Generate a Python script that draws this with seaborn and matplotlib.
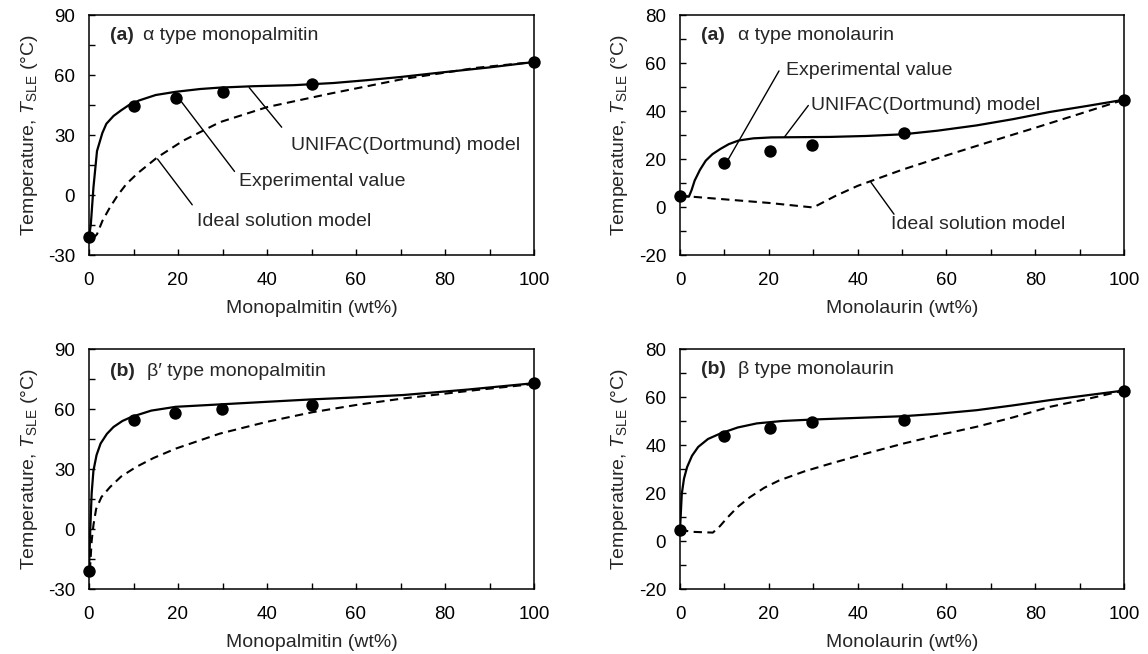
import numpy as np
import pandas as pd
import matplotlib
matplotlib.use("Agg")
import matplotlib.pyplot as plt
import seaborn as sns
from matplotlib.ticker import MultipleLocator

sns.set_style("ticks")
plt.rcParams['font.family'] = ['Liberation Sans', 'DejaVu Sans']
plt.rcParams['mathtext.fontset'] = 'custom'
plt.rcParams['mathtext.rm'] = 'Liberation Sans'
plt.rcParams['mathtext.it'] = 'Liberation Sans:italic'
plt.rcParams['mathtext.bf'] = 'Liberation Sans:bold'
plt.rcParams['axes.unicode_minus'] = False

# ---------------- data ----------------
# (a) alpha monopalmitin
a_pal_exp_x = [0, 10, 19.5, 30, 50, 100]
a_pal_exp_y = [-21, 44.5, 48.5, 51.5, 55.5, 66.5]
a_pal_uni_x = [0, 0.4, 1, 1.8, 3, 3.9, 5.5, 7.2, 9, 11.3, 15, 19.5, 25, 29.4, 37, 45.9, 55, 62.4, 70, 78.9, 90, 100]
a_pal_uni_y = [-21, -15, 3.8, 22, 31, 35.6, 39.5, 42.3, 45, 47.3, 50, 51.6, 53, 53.7, 54.4, 54.9, 56, 57.4, 59, 61.2, 63.8, 66.5]
a_pal_ide_x = [0.8, 1.8, 3, 4.7, 6.5, 8.4, 11, 15.4, 21.2, 29.4, 40.1, 54.2, 70.6, 87.1, 100]
a_pal_ide_y = [-22, -19.6, -13, -6.2, 0, 5.5, 11, 18.9, 27.2, 36.4, 44, 50.7, 58, 63.6, 66.5]

# (a) alpha monolaurin
a_lau_exp_x = [0, 10, 20.2, 29.8, 50.5, 100]
a_lau_exp_y = [4.7, 18.4, 23.2, 26, 30.8, 44.7]
a_lau_uni_x = [0, 2, 2.6, 3.3, 4.5, 5.8, 7.3, 9.1, 11, 13.2, 16.5, 20.6, 27, 33.8, 42, 50.3, 58, 66.8, 75, 83.3, 92, 100]
a_lau_uni_y = [4.7, 4.3, 7, 11, 15.5, 19.3, 22, 24.2, 26.2, 27.7, 28.6, 29.0, 29.1, 29.2, 29.6, 30.3, 31.8, 34, 36.6, 39.6, 42.2, 44.7]
a_lau_ide_x = [0, 10, 20, 30, 35, 40, 50, 60, 70, 80, 90, 100]
a_lau_ide_y = [4.7, 3.2, 1.7, -0.2, 4.6, 8.8, 15.5, 21.5, 27.3, 33, 38.8, 44.7]

# (b) beta' monopalmitin
b_pal_exp_x = [0, 10.1, 19.4, 29.8, 50, 100]
b_pal_exp_y = [-20.8, 54.4, 58.1, 59.8, 62, 72.9]
b_pal_uni_x = [0, 0.3, 0.6, 1, 1.7, 2.6, 4, 5.5, 7.5, 9.6, 14, 19.5, 29.4, 40, 50, 60, 70.7, 85, 100]
b_pal_uni_y = [-20.8, 0.7, 18, 29.2, 37, 42.7, 47.5, 51, 54, 56.1, 59.2, 61.1, 62.3, 63.6, 64.8, 65.8, 67, 69.7, 72.9]
b_pal_ide_x = [0.2, 0.6, 1, 1.6, 2.8, 4.7, 7.2, 10.5, 14.5, 19.5, 29.4, 40, 50, 60, 70.7, 87.1, 100]
b_pal_ide_y = [-20.8, -6, 2, 10, 16, 20.9, 26.2, 30.9, 35.5, 40.2, 47.7, 53.6, 58.3, 62, 65.3, 69.5, 72.5]

# (b) beta monolaurin
b_lau_exp_x = [0, 10, 20.2, 29.8, 50.5, 100]
b_lau_exp_y = [4.6, 43.6, 47.1, 49.4, 50.3, 62.7]
b_lau_uni_x = [0, 0.4, 0.9, 1.6, 2.7, 4.1, 6.3, 9.1, 13, 17.3, 23, 29.7, 40, 50.3, 58, 66.8, 75, 83.3, 92, 100]
b_lau_uni_y = [4.6, 19.6, 26, 30.8, 35.5, 39.2, 42.5, 44.8, 47.3, 49, 50, 50.6, 51.3, 52, 53, 54.5, 56.5, 58.7, 60.8, 62.7]
b_lau_ide_x = [0, 3, 7.4, 9, 10.7, 13, 15.7, 19, 22.3, 28, 33.8, 42, 50.3, 58, 66.8, 75, 83.3, 92, 100]
b_lau_ide_y = [4.6, 3.8, 3.5, 6.2, 9.8, 14.2, 18.2, 22.2, 25.2, 29, 32.2, 36.5, 40.6, 44, 47.6, 51.5, 55.9, 59.3, 62.7]

panels = [
    dict(exp=(a_pal_exp_x, a_pal_exp_y), uni=(a_pal_uni_x, a_pal_uni_y), ide=(a_pal_ide_x, a_pal_ide_y),
         ylim=(-30, 90), major=30, minor=15, xlabel='Monopalmitin (wt%)',
         tag='(a)', title='α type monopalmitin', title_x=12.1, title_y=80,
         notes=[('UNIFAC(Dortmund) model', (36, 53.7), (43.3, 33.9), (45.5, 24.5)),
                ('Experimental value', (20.4, 47.7), (32.7, 11.8), (33.8, 6.5)),
                ('Ideal solution model', (15.4, 18.0), (23.2, -4.9), (24.3, -13.2))]),
    dict(exp=(a_lau_exp_x, a_lau_exp_y), uni=(a_lau_uni_x, a_lau_uni_y), ide=(a_lau_ide_x, a_lau_ide_y),
         ylim=(-20, 80), major=20, minor=10, xlabel='Monolaurin (wt%)',
         tag='(a)', title='α type monolaurin', title_x=13.1, title_y=71.3,
         notes=[('Experimental value', (10.7, 19.3), (22.3, 56.7), (23.8, 57)),
                ('UNIFAC(Dortmund) model', (23.5, 29.1), (28.9, 42.3), (29.6, 42.3)),
                ('Ideal solution model', (43, 10.3), (48.2, -3), (47.6, -7.3))]),
    dict(exp=(b_pal_exp_x, b_pal_exp_y), uni=(b_pal_uni_x, b_pal_uni_y), ide=(b_pal_ide_x, b_pal_ide_y),
         ylim=(-30, 90), major=30, minor=15, xlabel='Monopalmitin (wt%)',
         tag='(b)', title='β\u2032 type monopalmitin', title_x=13, title_y=79,
         notes=[]),
    dict(exp=(b_lau_exp_x, b_lau_exp_y), uni=(b_lau_uni_x, b_lau_uni_y), ide=(b_lau_ide_x, b_lau_ide_y),
         ylim=(-20, 80), major=20, minor=10, xlabel='Monolaurin (wt%)',
         tag='(b)', title='β type monolaurin', title_x=13.1, title_y=71.3,
         notes=[]),
]

W, H = 1148, 654
fig = plt.figure(figsize=(W / 100, H / 100), dpi=100)
boxes = [(89, 15, 534, 255), (680, 15, 1124, 255), (89, 349, 534, 589), (680, 349, 1124, 589)]
FS = 14

for p, (l, t, r, b) in zip(panels, boxes):
    ax = fig.add_axes([l / W, 1 - b / H, (r - l) / W, (b - t) / H])
    sns.lineplot(x=p['ide'][0], y=p['ide'][1], ax=ax, color='black', lw=1.5,
                 linestyle=(0, (4, 2.6)), sort=False, estimator=None)
    sns.lineplot(x=p['uni'][0], y=p['uni'][1], ax=ax, color='black', lw=1.6,
                 sort=False, estimator=None)
    sns.scatterplot(x=p['exp'][0], y=p['exp'][1], ax=ax, color='black', s=80,
                    edgecolor='black', linewidth=0, zorder=5, clip_on=False)
    ax.set_xlim(0, 100)
    ax.set_ylim(*p['ylim'])
    ax.xaxis.set_major_locator(MultipleLocator(20))
    ax.xaxis.set_minor_locator(MultipleLocator(10))
    ax.yaxis.set_major_locator(MultipleLocator(p['major']))
    ax.yaxis.set_minor_locator(MultipleLocator(p['minor']))
    ax.tick_params(which='both', direction='in', length=4, width=1, colors='black',
                   labelsize=13.5, pad=10)
    ax.tick_params(axis='x', which='both', pad=12)
    for s in ax.spines.values():
        s.set_visible(True)
        s.set_color('black')
        s.set_linewidth(1.1)
    ax.set_xlabel(p['xlabel'], fontsize=FS, labelpad=8)
    ax.set_ylabel(r'Temperature, $\it{T}$$_{\rm SLE}$ (°C)', fontsize=FS, labelpad=6)
    ax.text(4.7, p['title_y'], p['tag'], fontsize=FS, fontweight='bold', va='center', ha='left')
    ax.text(p['title_x'], p['title_y'], p['title'], fontsize=FS, va='center', ha='left')
    for txt, p1, p2, tp in p['notes']:
        ax.plot([p1[0], p2[0]], [p1[1], p2[1]], color='black', lw=1)
        ax.text(tp[0], tp[1], txt, fontsize=FS, va='center', ha='left')

fig.savefig('out.png', dpi=100, facecolor='white')
